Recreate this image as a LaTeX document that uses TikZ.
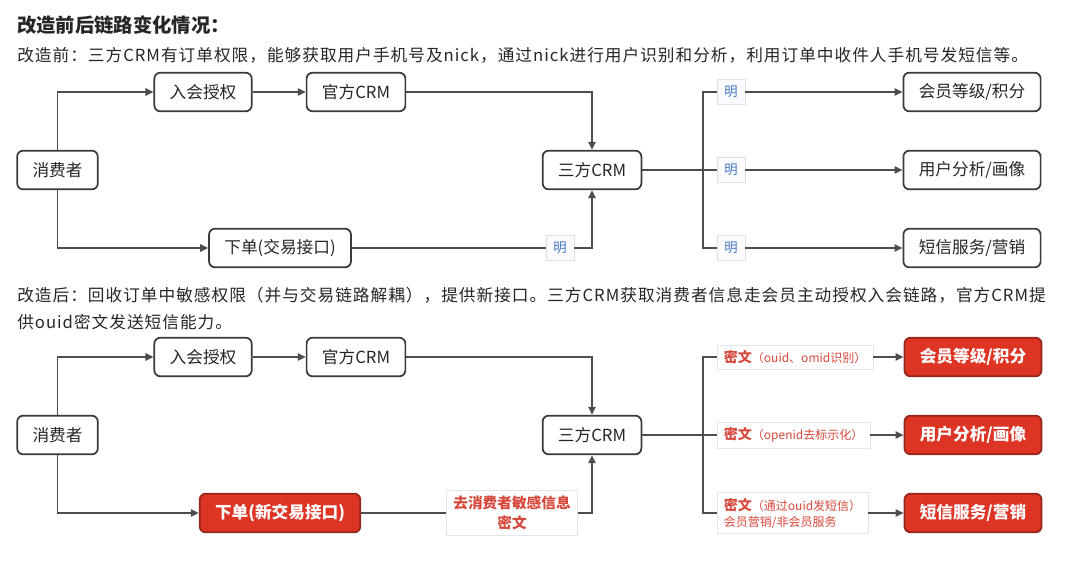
\documentclass[tikz,border=0pt]{standalone}
\usepackage{fontspec}
\setmainfont{Noto Sans CJK SC}
\usepackage{tikz}
\usetikzlibrary{arrows.meta,positioning,calc}
\definecolor{lineGray}{RGB}{77,77,77}
\definecolor{boxGray}{RGB}{58,58,58}
\definecolor{crmRed}{RGB}{222,52,36}
\definecolor{crmRedDark}{RGB}{150,38,28}
\definecolor{tagRed}{RGB}{214,72,60}
\definecolor{tagBlue}{RGB}{70,120,196}

\begin{document}
\begin{tikzpicture}[x=0.75pt, y=-0.75pt,
		every node/.style={font=\fontsize{12.5}{15}\selectfont},
		note/.style={anchor=west, inner sep=0pt, text=black!85, font=\fontsize{12.5}{15}\selectfont\addfontfeatures{LetterSpace=6}},
		box/.style={draw=boxGray, line width=1.3pt, rounded corners=4.5pt, fill=white, text=black!85, inner xsep=11.5pt, minimum height=29pt},
		redbox/.style={box, draw=crmRedDark, fill=crmRed, text=white, font=\bfseries\fontsize{12.5}{15}\selectfont},
		ming/.style={draw=black!12, fill=blue!2, text=tagBlue, font=\fontsize{10}{12}\selectfont, minimum width=21pt, minimum height=19pt, inner sep=1pt},
		mitag/.style={draw=black!10, fill=white, text=tagRed, align=left, inner xsep=5pt, inner ysep=4pt, font=\fontsize{9}{12}\selectfont},
		link/.style={draw=lineGray, line width=1.2pt},
		flow/.style={link, -{Triangle[length=6pt,width=5.5pt]}},
	]
	\useasboundingbox (0,0) rectangle (1080,579);

	% heading and notes
	\node[note, font=\bfseries\fontsize{14.5}{17}\selectfont] (title) at (17,25) {改造前后链路变化情况：};
	\node[note] (beforeNote) at (17,55) {改造前：三方CRM有订单权限，能够获取用户手机号及nick，通过nick进行用户识别和分析，利用订单中收件人手机号发短信等。};
	\node[note] (afterNote) at (17,295) {改造后：回收订单中敏感权限（并与交易链路解耦），提供新接口。三方CRM获取消费者信息走会员主动授权入会链路，官方CRM提};
	\node[note] (afterNoteTwo) at (17,322) {供ouid密文发送短信能力。};

	% before
	\node[box] (consumerA) at (57.5,170) {消费者};
	\node[box] (authA) at (203,92) {入会授权};
	\node[box] (officialA) at (356,92) {官方CRM};
	\node[box] (thirdA) at (592,170) {三方CRM};
	\node[box] (orderA) at (280,248) {下单(交易接口)};
	\node[box] (levelA) at (972,92) {会员等级/积分};
	\node[box] (analysisA) at (972,170) {用户分析/画像};
	\node[box] (smsA) at (972,248) {短信服务/营销};
	\node[ming] (mingOrderA) at (560,248) {明};
	\node[ming] (mingLevelA) at (731,92) {明};
	\node[ming] (mingAnaA) at (731,170) {明};
	\node[ming] (mingSmsA) at (731,248) {明};
	\coordinate (forkA) at (703,170);

	\draw[flow] (consumerA) |- (authA);
	\draw[flow] (consumerA) |- (orderA);
	\draw[flow] (authA) -- (officialA);
	\draw[flow] (officialA) -| (thirdA);
	\draw[link] (orderA) -- (mingOrderA);
	\draw[flow] (mingOrderA) -| (thirdA);
	\draw[link] (thirdA) -- (mingAnaA);
	\draw[link] (mingLevelA) -| (forkA) |- (mingSmsA);
	\draw[flow] (mingLevelA) -- (levelA);
	\draw[flow] (mingAnaA) -- (analysisA);
	\draw[flow] (mingSmsA) -- (smsA);

	% after
	\node[box] (consumerB) at (57.5,435) {消费者};
	\node[box] (authB) at (203,357) {入会授权};
	\node[box] (officialB) at (356,357) {官方CRM};
	\node[box] (thirdB) at (592,435) {三方CRM};
	\node[redbox] (orderB) at (280,513) {下单(新交易接口)};
	\node[redbox] (levelB) at (973,357) {会员等级/积分};
	\node[redbox] (analysisB) at (973,435) {用户分析/画像};
	\node[redbox] (smsB) at (973,513) {短信服务/营销};
	\node[mitag, align=center, font=\bfseries\fontsize{11}{15}\selectfont] (tagOrderB) at (512,513) {去消费者敏感信息\\密文};
	\node[mitag, anchor=west] (tagLevelB) at (717,357) {{\bfseries\fontsize{10.5}{12}\selectfont 密文}（ouid、omid识别）};
	\node[mitag, anchor=west] (tagAnaB) at (717,435) {{\bfseries\fontsize{10.5}{12}\selectfont 密文}（openid去标示化）};
	\node[mitag, anchor=west] (tagSmsB) at (717,513) {{\bfseries\fontsize{10.5}{12}\selectfont 密文}（通过ouid发短信）\\会员营销/非会员服务};
	\coordinate (forkB) at (703,435);

	\draw[flow] (consumerB) |- (authB);
	\draw[flow] (consumerB) |- (orderB);
	\draw[flow] (authB) -- (officialB);
	\draw[flow] (officialB) -| (thirdB);
	\draw[link] (orderB) -- (tagOrderB);
	\draw[flow] (tagOrderB) -| (thirdB);
	\draw[link] (thirdB) -- (tagAnaB);
	\draw[link] (tagLevelB) -| (forkB) |- (tagSmsB);
	\draw[flow] (tagLevelB) -- (levelB);
	\draw[flow] (tagAnaB) -- (analysisB);
	\draw[flow] (tagSmsB) -- (smsB);
\end{tikzpicture}
\end{document}
